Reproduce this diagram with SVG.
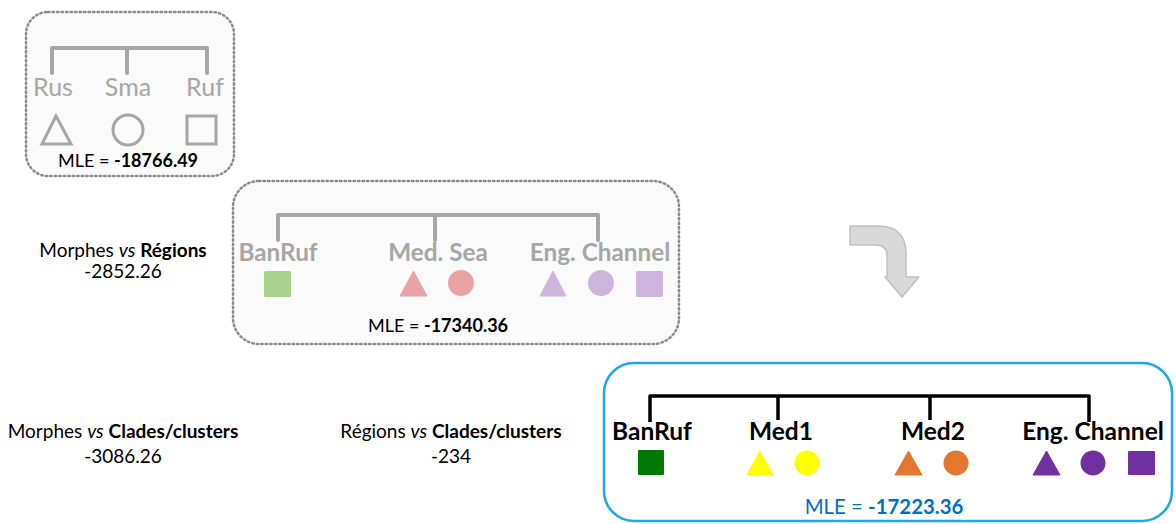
<svg xmlns="http://www.w3.org/2000/svg" width="1176" height="524" viewBox="0 0 1176 524">
<style>
text{font-family:Lato,"Open Sans","Liberation Sans",sans-serif}
.box{fill:#fafafa;stroke:#8c8c8c;stroke-width:2.5;stroke-dasharray:1.5 3;stroke-linecap:round}
.gt{fill:none;stroke:#a6a6a6;stroke-width:4;stroke-linejoin:round;stroke-linecap:round}
.bt{fill:none;stroke:#000;stroke-width:3.5;stroke-linejoin:round}
.gl{fill:#a6a6a6;font-size:25px}
.glb{fill:#a6a6a6;font-size:24.3px;font-weight:bold}
.bl{fill:#000;font-size:24.5px;font-weight:bold}
.lbl{fill:#000;font-size:19px}
.mle{fill:#000;font-size:18px}
.out{fill:none;stroke:#a6a6a6;stroke-width:3}
</style>
<rect width="1176" height="524" fill="#fff"/>
<g id="node-morphes">
<rect class="box" x="26" y="12" width="208" height="164" rx="22"/>
<path class="gt" d="M52 73 V48 H207 V73 M127 48 V73"/>
<text class="gl" x="53" y="96" text-anchor="middle">Rus</text>
<text class="gl" x="128" y="96" text-anchor="middle">Sma</text>
<text class="gl" x="205" y="96" text-anchor="middle">Ruf</text>
<polygon class="out" points="56,116 42,144 71,144"/>
<circle class="out" cx="128" cy="130" r="15"/>
<rect class="out" x="187" y="116" width="29" height="28"/>
<text class="mle" x="128" y="167" text-anchor="middle">MLE = <tspan font-weight="bold">-18766.49</tspan></text>
</g>
<g id="node-regions">
<rect class="box" x="233" y="181" width="446" height="163" rx="26"/>
<path class="gt" d="M278 240 V215 H598 V240 M435 215 V240"/>
<text class="glb" x="278" y="261" text-anchor="middle">BanRuf</text>
<text class="glb" x="438" y="261" text-anchor="middle">Med. Sea</text>
<text class="glb" x="600" y="261" text-anchor="middle">Eng. Channel</text>
<rect x="264" y="271" width="27" height="26" rx="1.5" fill="#a9d18e"/>
<polygon points="413.5,271 400,296 427,296" fill="#eaa3a3" stroke="#eaa3a3" stroke-width="1" stroke-linejoin="round"/>
<circle cx="461" cy="283" r="13" fill="#eaa3a3"/>
<polygon points="553,271 540,296 566,296" fill="#cfb5de" stroke="#cfb5de" stroke-width="1" stroke-linejoin="round"/>
<circle cx="601" cy="283" r="13" fill="#cfb5de"/>
<rect x="636" y="271" width="27" height="26" rx="1.5" fill="#cfb5de"/>
<text class="mle" x="438" y="332" text-anchor="middle">MLE = <tspan font-weight="bold">-17340.36</tspan></text>
</g>
<g id="node-clades">
<rect x="604" y="363" width="568" height="158" rx="30" fill="#fff" stroke="#1ea7e1" stroke-width="2.5"/>
<path class="bt" d="M650 422 V396 H1089 V422 M778 396 V420 M930 396 V420"/>
<text class="bl" x="652" y="440" text-anchor="middle">BanRuf</text>
<text class="bl" x="781" y="440" text-anchor="middle">Med1</text>
<text class="bl" x="933" y="440" text-anchor="middle">Med2</text>
<text class="bl" x="1093" y="440" text-anchor="middle">Eng. Channel</text>
<rect x="638" y="450" width="26" height="25" rx="1" fill="#007a00"/>
<polygon points="760,451 747,475 773,475" fill="#ffff00" stroke="#ffff00" stroke-width="1" stroke-linejoin="round"/>
<circle cx="807" cy="463" r="12.5" fill="#ffff00"/>
<polygon points="908.5,451 895,475 922,475" fill="#e2782f" stroke="#e2782f" stroke-width="1" stroke-linejoin="round"/>
<circle cx="956" cy="463" r="12.5" fill="#e2782f"/>
<polygon points="1046.5,451 1033,475 1060,475" fill="#7030a0" stroke="#7030a0" stroke-width="1" stroke-linejoin="round"/>
<circle cx="1093" cy="463" r="12.5" fill="#7030a0"/>
<rect x="1128" y="451" width="27" height="24" rx="1" fill="#7030a0"/>
<text x="884" y="514" text-anchor="middle" font-size="20.4" fill="#0070c0">MLE = <tspan font-weight="bold">-17223.36</tspan></text>
</g>
<g id="connectors">
<path d="M850 226 H878 Q906 226 906 254 V277 H919 L902 297 L885 277 H887 V256 Q887 245 876 245 H850 Z" fill="#d9d9d9" stroke="#c0c0c0" stroke-width="1.5" stroke-linejoin="round"/>
</g>
<g id="labels">
<text class="lbl" x="123" y="257" text-anchor="middle">Morphes <tspan font-style="italic">vs</tspan> <tspan font-weight="bold">Régions</tspan></text>
<text class="lbl" x="123" y="278" text-anchor="middle">-2852.26</text>
<text class="lbl" x="123" y="438" text-anchor="middle">Morphes <tspan font-style="italic">vs</tspan> <tspan font-weight="bold">Clades/clusters</tspan></text>
<text class="lbl" x="123" y="463" text-anchor="middle">-3086.26</text>
<text class="lbl" x="451" y="438" text-anchor="middle">Régions <tspan font-style="italic">vs</tspan> <tspan font-weight="bold">Clades/clusters</tspan></text>
<text class="lbl" x="451" y="463" text-anchor="middle">-234</text>
</g>
</svg>
